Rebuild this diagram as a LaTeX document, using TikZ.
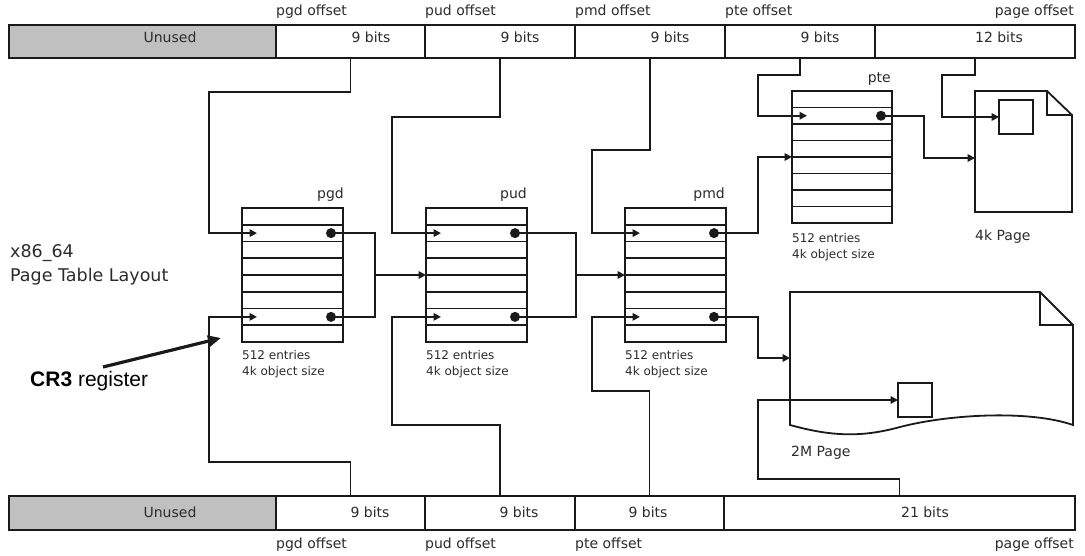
\documentclass[tikz,border=0pt]{standalone}
\usepackage{fontspec}
\setmainfont{DejaVu Sans}
\newfontfamily\arialf{Liberation Sans}
\usetikzlibrary{arrows.meta,calc}
\definecolor{linec}{HTML}{1A1A1A}
\definecolor{textc}{HTML}{2B2B2B}
\definecolor{unusedc}{HTML}{C0C0C0}
\begin{document}
\begin{tikzpicture}[x=1pt,y=-1pt,
  ln/.style={draw=linec,line width=1.8pt},
  arr/.style={ln,-{Triangle[length=7.5pt,width=7.5pt]}},
  cellbox/.style={draw=linec,line width=1.8pt,inner sep=0pt,outer sep=0pt,anchor=north west},
  tablebox/.style={draw=linec,line width=1.8pt,inner sep=0pt,outer sep=0pt,anchor=north west,minimum width=101pt},
  lbl/.style={text=textc,inner sep=0pt,font=\fontsize{14}{16}\selectfont},
  small/.style={text=textc,inner sep=0pt,anchor=west,font=\fontsize{12}{14}\selectfont},
  big/.style={text=textc,inner sep=0pt,anchor=west,font=\fontsize{17.5}{20}\selectfont},
  sq/.style={draw=linec,line width=1.8pt,inner sep=0pt,outer sep=0pt,minimum size=34pt},
  dot/.style={fill=linec}
]
\useasboundingbox (0,0) rectangle (1085,556);

% ---------- top address format ----------
\node[cellbox,fill=unusedc,minimum width=267pt,minimum height=33pt] (tun)  at (9,25) {};
\node[cellbox,minimum width=149pt,minimum height=33pt] (tpgd) at (276,25) {};
\node[cellbox,minimum width=150pt,minimum height=33pt] (tpud) at (425,25) {};
\node[cellbox,minimum width=150pt,minimum height=33pt] (tpmd) at (575,25) {};
\node[cellbox,minimum width=150pt,minimum height=33pt] (tpte) at (725,25) {};
\node[cellbox,minimum width=200pt,minimum height=33pt] (tpage) at (875,25) {};

\node[lbl] (tunl) at (170,37) {Unused};
\node[lbl] (tpgdl) at (371,37) {9 bits};
\node[lbl] (tpudl) at (520,37) {9 bits};
\node[lbl] (tpmdl) at (670,37) {9 bits};
\node[lbl] (tptel) at (820,37) {9 bits};
\node[lbl] (tpagel) at (999,37) {12 bits};

\node[lbl,anchor=west] (tpgdo) at (276,12) {pgd offset};
\node[lbl,anchor=west] (tpudo) at (425,12) {pud offset};
\node[lbl,anchor=west] (tpmdo) at (575,12) {pmd offset};
\node[lbl,anchor=west] (tpteo) at (725,12) {pte offset};
\node[lbl,anchor=east] (tpageo) at (1074,12) {page offset};

% ---------- bottom address format ----------
\node[cellbox,fill=unusedc,minimum width=267pt,minimum height=34pt] (bun)  at (9,496) {};
\node[cellbox,minimum width=149pt,minimum height=34pt] (bpgd) at (276,496) {};
\node[cellbox,minimum width=150pt,minimum height=34pt] (bpud) at (425,496) {};
\node[cellbox,minimum width=149pt,minimum height=34pt] (bpte) at (575,496) {};
\node[cellbox,minimum width=351pt,minimum height=34pt] (bpage) at (724,496) {};

\node[lbl] (bunl) at (170,512) {Unused};
\node[lbl] (bpgdl) at (370,512) {9 bits};
\node[lbl] (bpudl) at (519,512) {9 bits};
\node[lbl] (bptel) at (648,512) {9 bits};
\node[lbl] (bpagel) at (925,512) {21 bits};

\node[lbl,anchor=west] (bpgdo) at (276,545) {pgd offset};
\node[lbl,anchor=west] (bpudo) at (425,545) {pud offset};
\node[lbl,anchor=west] (bpteo) at (575,545) {pte offset};
\node[lbl,anchor=east] (bpageo) at (1074,545) {page offset};

% ---------- page tables ----------
\node[tablebox,minimum height=134pt] (pgd) at (242,208) {};
\node[tablebox,minimum height=134pt] (pud) at (426,208) {};
\node[tablebox,minimum height=134pt] (pmd) at (625,208) {};
\node[tablebox,minimum height=132pt,minimum width=100pt] (pte) at (792,91) {};

\foreach \t/\h in {pgd/134,pud/134,pmd/134,pte/132}{
  \foreach \k in {1,...,7}
    \draw[ln] ($(\t.north west)+(0,\h/8*\k)$) -- ($(\t.north east)+(0,\h/8*\k)$);
  \coordinate (\t-a)  at ($(\t.north west)+(15,\h/8*1.5)$);
  \coordinate (\t-b)  at ($(\t.north west)+(15,\h/8*6.5)$);
  \coordinate (\t-da) at ($(\t.north west)+(89,\h/8*1.5)$);
  \coordinate (\t-db) at ($(\t.north west)+(89,\h/8*6.5)$);
}

\node[lbl,anchor=east] (pgdl) at (344,195) {pgd};
\node[lbl,anchor=east] (pudl) at (527,195) {pud};
\node[lbl,anchor=east] (pmdl) at (725,195) {pmd};
\node[lbl,anchor=east] (ptel) at (891,79) {pte};

\foreach \t/\x/\y in {pgd/242/355,pud/426/355,pmd/625/355,pte/792/238}{
  \node[small] (\t-n1) at (\x,\y) {512 entries};
  \node[small] (\t-n2) at (\x,\y+17) {4k object size};
}

% ---------- 4k page ----------
\draw[ln,line join=miter] (975,91) -- (1047,91) -- (1072,115) -- (1072,212) -- (975,212) -- cycle;
\draw[ln] (1047,91) -- (1047,115) -- (1072,115);
\coordinate (p4k-w) at (975,158);
\node[sq,anchor=north west] (sq4k) at (999,100) {};
\node[lbl,anchor=west] (p4kl) at (975,237) {4k Page};

% ---------- 2M page ----------
\draw[ln,line join=miter] (790,425) -- (790,292) -- (1040,292) -- (1073,325) -- (1073,425)
  .. controls (1030,410) and (950,414) .. (900,427)
  .. controls (860,438) and (830,436) .. (790,425) -- cycle;
\draw[ln] (1040,292) -- (1040,325) -- (1073,325);
\coordinate (p2m-w) at (790,358);
\node[sq,anchor=north west] (sq2m) at (898,383) {};
\node[lbl,anchor=west] (p2ml) at (791,453) {2M Page};

% ---------- offsets into the tables ----------
\draw[arr] (tpgd.south) |- (209,92) |- (pgd-a);
\draw[arr] (bpgd.north) |- (209,462) |- (pgd-b);
\draw[arr] (tpud.south) |- (392,117) |- (pud-a);
\draw[arr] (bpud.north) |- (392,425) |- (pud-b);
\draw[arr] (tpmd.south) |- (592,150) |- (pmd-a);
\draw[arr] (bpte.north) |- (592,391) |- (pmd-b);
\draw[arr] (tpte.south) |- (758,75) |- (pte-a);
\draw[arr] (tpage.south) |- (942,75) |- (sq4k.west);
\draw[arr] (bpage.north) |- (758,479) |- (sq2m.west);

% ---------- table entries pointing to the next level ----------
\coordinate (pgdjoin) at (375,275);
\coordinate (pudjoin) at (576,275);
\draw[ln] (pgd-da) -| (pgdjoin) |- (pgd-db);
\draw[arr] (pgdjoin) -- (pud.west |- pgdjoin);
\draw[ln] (pud-da) -| (pudjoin) |- (pud-db);
\draw[arr] (pudjoin) -- (pmd.west |- pudjoin);
\draw[arr] (pmd-da) -| ($(pte.west)+(-34,0)$) -- (pte.west);
\draw[arr] (pmd-db) -| ($(p2m-w)+(-32,0)$) -- (p2m-w);
\draw[arr] (pte-da) -| ($(p4k-w)+(-51,0)$) -- (p4k-w);

\foreach \t in {pgd,pud,pmd}{
  \fill[dot] (\t-da) circle (5pt);
  \fill[dot] (\t-db) circle (5pt);
}
\fill[dot] (pte-da) circle (5pt);

% ---------- titles ----------
\node[big] (title1) at (10,253) {x86\_64};
\node[big] (title2) at (10,277) {Page Table Layout};

\node[inner sep=0pt,anchor=west,font=\arialf\fontsize{21}{24}\selectfont] (cr3) at (30,381) {\textbf{CR3} register};
\coordinate (cr3tail) at (103,367);
\coordinate (cr3tip) at (221,338);
\draw[draw=linec,line width=3.2pt,-{Triangle[length=13pt,width=11pt]}] (cr3tail) -- (cr3tip);
\end{tikzpicture}
\end{document}
